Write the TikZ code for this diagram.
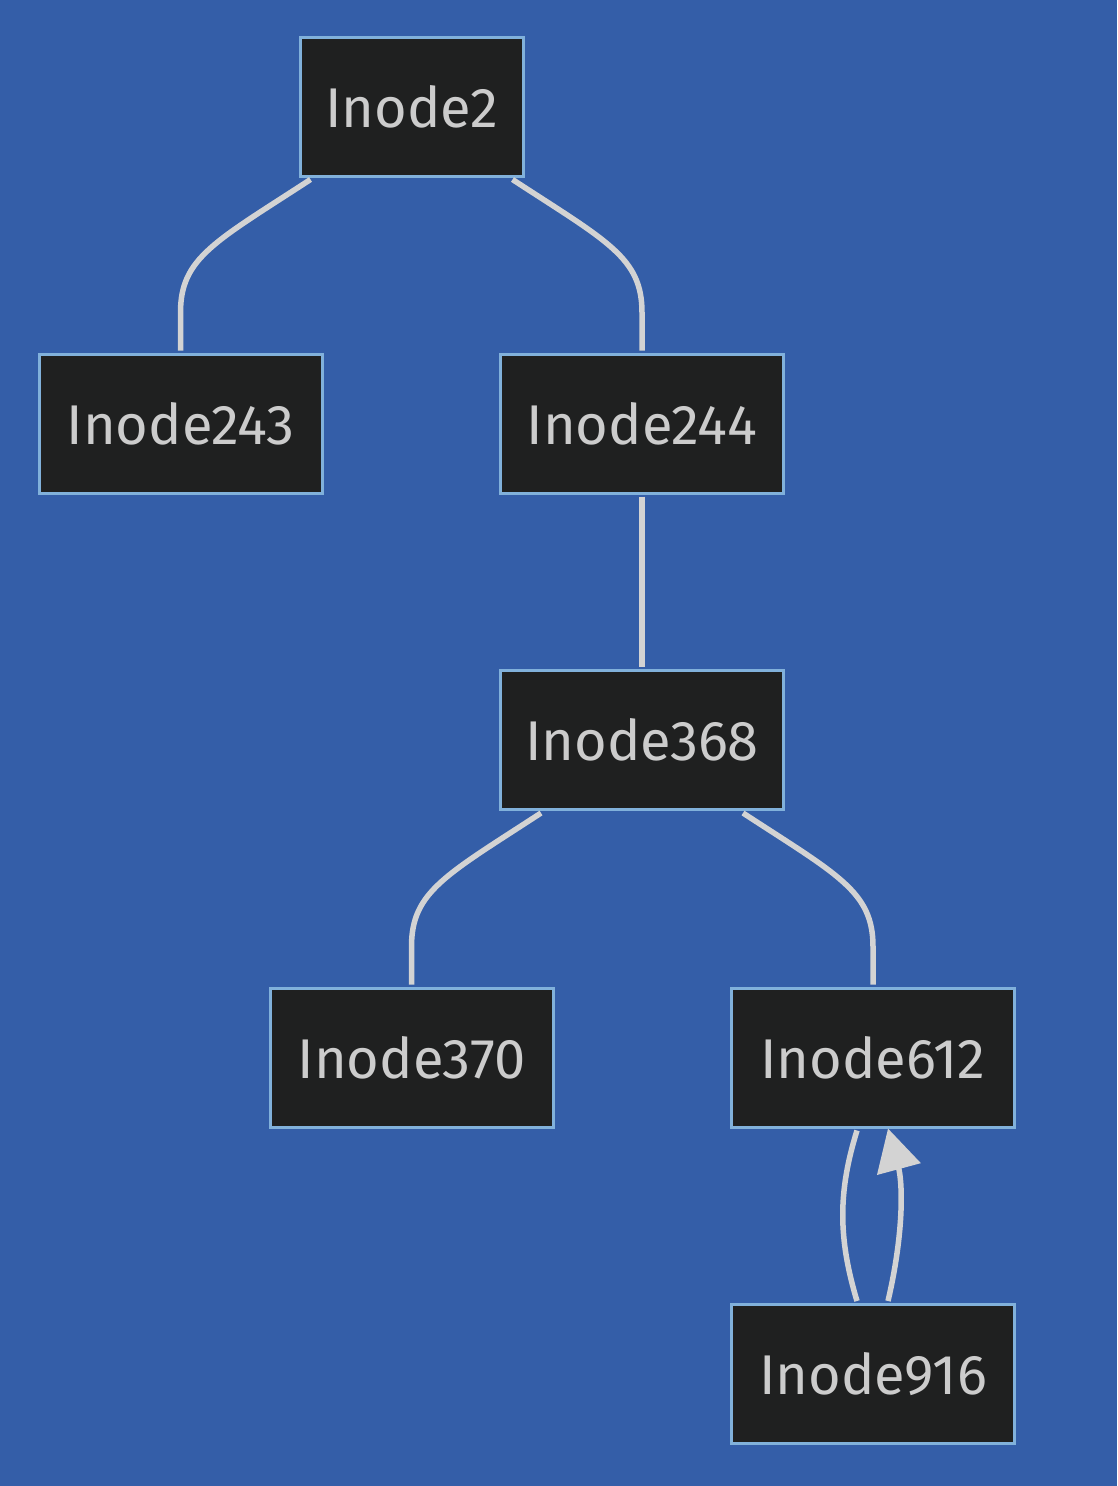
\documentclass[tikz,border=0pt]{standalone}
\usepackage{fontspec}
\setmainfont{Fira Sans}
\usetikzlibrary{arrows.meta,calc}
\definecolor{bgblue}{RGB}{52,94,168}
\definecolor{nodefill}{RGB}{31,32,32}
\definecolor{nodeborder}{RGB}{129,177,219}
\definecolor{edgecol}{RGB}{211,211,211}
\definecolor{txtcol}{RGB}{204,204,204}
\begin{document}
\begin{tikzpicture}[x=1pt,y=-1pt,
  box/.style={draw=nodeborder,fill=nodefill,line width=3pt,minimum width=283pt,minimum height=139pt,inner sep=0pt,text=txtcol,font=\fontsize{56}{60}\selectfont},
  edge/.style={draw=edgecol,line width=5.5pt},
  arr/.style={-{Triangle[length=42pt,width=44pt]}}]
\fill[bgblue] (0,0) rectangle (1117,1486);
\useasboundingbox (0,0) rectangle (1117,1486);
\node[box,minimum width=223pt] (n2) at (411.5,106.5) {Inode2};
\node[box] (n243) at (180.5,423.5) {Inode243};
\node[box] (n244) at (642,423.5) {Inode244};
\node[box] (n368) at (642,740) {Inode368};
\node[box] (n370) at (411.5,1057.5) {Inode370};
\node[box] (n612) at (873,1057.5) {Inode612};
\node[box] (n916) at (873,1374) {Inode916};
\draw[edge] ($(n2.south)+(-101,2)$) .. controls +(-95,62) and +(0,-55) .. ($(n243.north)+(0,-40)$) -- ($(n243.north)+(0,-2)$);
\draw[edge] ($(n2.south)+(101,2)$) .. controls +(95,62) and +(0,-55) .. ($(n244.north)+(0,-40)$) -- ($(n244.north)+(0,-2)$);
\draw[edge] ($(n244.south)+(0,2)$) -- ($(n368.north)+(0,-2)$);
\draw[edge] ($(n368.south)+(-101,2)$) .. controls +(-95,62) and +(0,-55) .. ($(n370.north)+(0,-40)$) -- ($(n370.north)+(0,-2)$);
\draw[edge] ($(n368.south)+(101,2)$) .. controls +(95,62) and +(0,-55) .. ($(n612.north)+(0,-40)$) -- ($(n612.north)+(0,-2)$);
\draw[edge] ($(n612.south)+(-16,2)$) .. controls +(-19,61) and +(-19,-63) .. ($(n916.north)+(-16,-2)$);
\draw[edge,arr] ($(n916.north)+(15,-2)$) .. controls +(17,-73) and +(14,52) .. ($(n612.south)+(15,0)$);
\end{tikzpicture}
\end{document}
